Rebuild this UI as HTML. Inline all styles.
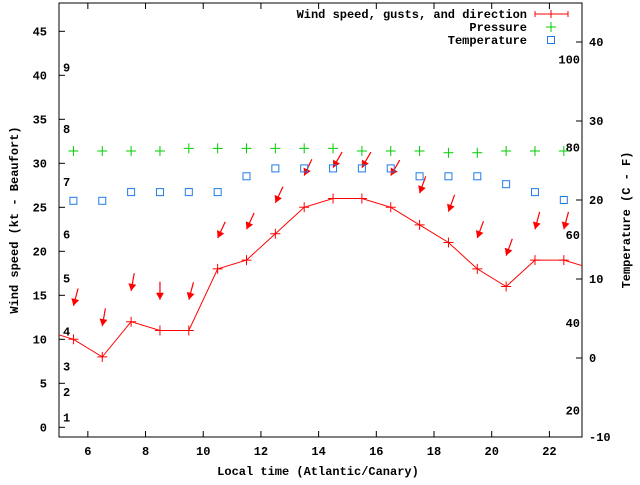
<!DOCTYPE html>
<html><head><meta charset="utf-8"><style>
body{margin:0;background:#fff}
text{font-family:"Liberation Mono",monospace;font-weight:bold;font-size:12px;fill:#000}
</style></head><body>
<svg width="640" height="480" xmlns="http://www.w3.org/2000/svg">
<defs><clipPath id="clip"><rect x="59" y="3" width="523" height="434"/></clipPath></defs>
<g id="axes"></g>
<g id="marks" clip-path="url(#clip)"></g>
<g id="legend"></g>
</svg>
<script>
const hours=[5.5,6.5,7.5,8.5,9.5,10.5,11.5,12.5,13.5,14.5,15.5,16.5,17.5,18.5,19.5,20.5,21.5,22.5];
const lineHours=[4.5,5.5,6.5,7.5,8.5,9.5,10.5,11.5,12.5,13.5,14.5,15.5,16.5,17.5,18.5,19.5,20.5,21.5,22.5,23.5];
const windSpeed=[11,10,8,12,11,11,18,19,22,25,26,26,25,23,21,18,16,19,19,18];
const gusts=[13.8,11.5,15.5,14.5,14.5,21.5,22.5,25.5,28.6,29.5,29.5,28.6,26.6,24.5,21.5,19.5,22.5,22.5];
const windDir=[15,10,10,0,15,25,25,25,25,30,30,30,20,20,20,20,15,15];
const pressure=[31.4,31.4,31.4,31.4,31.7,31.7,31.7,31.7,31.7,31.7,31.4,31.4,31.4,31.2,31.2,31.4,31.4,31.4];
const tempC=[19.9,19.9,21,21,21,21,23,24,24,24,24,24,23,23,23,22,21,20];
const xTicks=[6,8,10,12,14,16,18,20,22];
const yTicks=[0,5,10,15,20,25,30,35,40,45];
const y2Ticks=[-10,0,10,20,30,40];
const fTicks=[20,40,60,80,100];
const bftLabels=["1","2","3","4","5","6","7","8","9"];
const bftPos=[1.1,4.0,6.9,10.9,16.9,21.9,27.9,33.9,40.9];

const NS="http://www.w3.org/2000/svg";
const L=59,R=582,T=3,B=437;
const X=h=>L+(h-5)*(R-L)/18.13;
const Y=v=>427.3-v*8.8;
const Y2=c=>358-c*7.9;
function mk(tag,attrs,parent,txt){const e=document.createElementNS(NS,tag);for(const k in attrs)e.setAttribute(k,attrs[k]);if(txt!==undefined)e.textContent=txt;document.getElementById(parent).appendChild(e);return e;}
const ax='axes',mr='marks',lg='legend';
let e;
e=mk('rect',{x:L,y:T,width:R-L,height:B-T,fill:'none',stroke:'#000','stroke-width':1},ax);


xTicks.forEach(t=>{const x=X(t);
 e=mk('path',{d:`M${x},${B}v-6M${x},${T}v6`,stroke:'#000'},ax);
 
 
 e=mk('text',{x:x,y:B+18,'text-anchor':'middle'},ax,String(t));
 
 });
yTicks.forEach(t=>{const y=Y(t);
 e=mk('path',{d:`M${L},${y}h6`,stroke:'#000'},ax);
 
 
 e=mk('text',{x:47,y:y+4,'text-anchor':'end'},ax,String(t));
 
 });
y2Ticks.forEach(t=>{const y=Y2(t);
 e=mk('path',{d:`M${R},${y}h-6`,stroke:'#000'},ax);
 
 
 e=mk('text',{x:589,y:y+4},ax,String(t));
 
 });
fTicks.forEach(f=>{const y=Y2((f-32)*5/9);
 e=mk('text',{x:580,y:y+4,'text-anchor':'end'},ax,String(f));
 
 });
bftLabels.forEach((b,i)=>{
 e=mk('text',{x:63,y:Y(bftPos[i])+4},ax,b);
 
 });
e=mk('text',{x:318,y:475,'text-anchor':'middle'},ax,'Local time (Atlantic/Canary)');


e=mk('text',{x:18,y:220,'text-anchor':'middle',transform:'rotate(-90 18 220)'},ax,'Wind speed (kt - Beaufort)');


e=mk('text',{x:630,y:220,'text-anchor':'middle',transform:'rotate(-90 630 220)'},ax,'Temperature (C - F)');



// wind speed line
e=mk('polyline',{points:lineHours.map((h,i)=>X(h)+','+Y(windSpeed[i])).join(' '),fill:'none',stroke:'#f00','stroke-width':1},mr);


lineHours.forEach((h,i)=>{const x=X(h),y=Y(windSpeed[i]);
 e=mk('path',{d:`M${x-5},${y}h10M${x},${y-5}v10`,stroke:'#f00'},mr);
 
 });
// gust arrows
hours.forEach((h,i)=>{const x=X(h),y=Y(gusts[i]);const a=windDir[i]*Math.PI/180;
 const dx=Math.sin(a),dy=Math.cos(a);const len=18;
 const x0=x+dx*len,y0=y-dy*len;
 const px=-dy,py=-dx;
 const bx=x+dx*7,by=y-dy*7;
 e=mk('path',{d:`M${x0},${y0}L${x},${y}`,stroke:'#f00','stroke-width':1.2},mr);
 
 
 e=mk('polygon',{points:`${x},${y} ${bx+dy*4},${by+dx*4} ${bx-dy*4},${by-dx*4}`,fill:'#f00'},mr);
 
 });
// pressure
hours.forEach((h,i)=>{const x=X(h),y=Y(pressure[i]);
 e=mk('path',{d:`M${x-5},${y}h10M${x},${y-5}v10`,stroke:'#0c0'},mr);
 
 });
// temperature
hours.forEach((h,i)=>{const x=X(h),y=Y2(tempC[i]);
 e=mk('rect',{x:x-3.5,y:y-3.5,width:7,height:7,fill:'none',stroke:'#1e7ce8'},mr);
 
 });
// legend
e=mk('text',{x:527,y:18,'text-anchor':'end'},lg,'Wind speed, gusts, and direction');


e=mk('path',{d:'M535,14h33M535,11v6M568,11v6M551,10v8',stroke:'#f00'},lg);


e=mk('text',{x:527,y:31,'text-anchor':'end'},lg,'Pressure');


e=mk('path',{d:'M546,27h10M551,22v10',stroke:'#0c0'},lg);


e=mk('text',{x:527,y:44,'text-anchor':'end'},lg,'Temperature');


e=mk('rect',{x:547.5,y:36.5,width:7,height:7,fill:'none',stroke:'#1e7ce8'},lg);


</script>
</body></html>
